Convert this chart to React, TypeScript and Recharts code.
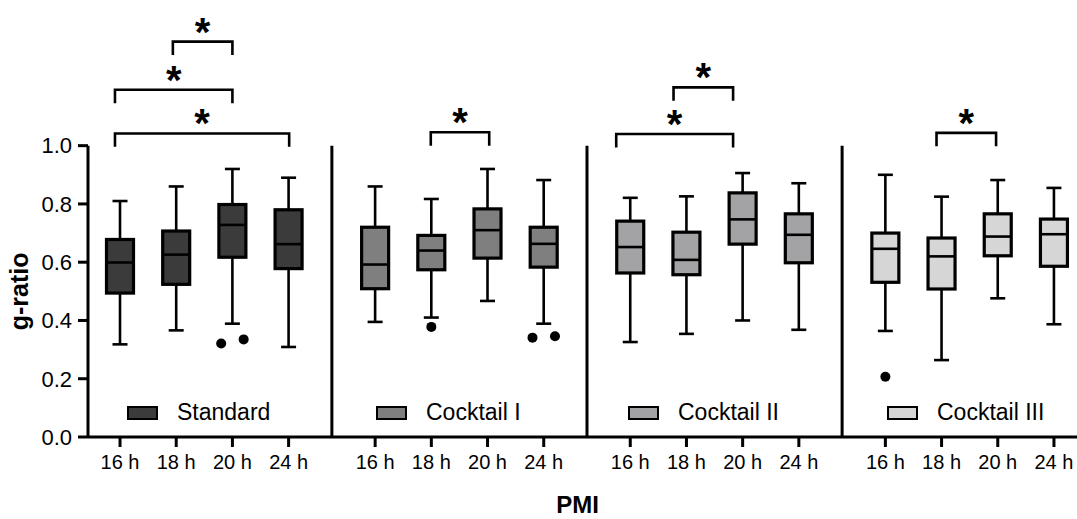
import React from 'react';
import { ComposedChart, XAxis, YAxis, Bar, Scatter, Line, ReferenceLine, Label } from 'recharts';

// ---------- data ----------
const categories = ['16 h', '18 h', '20 h', '24 h'];
const groupNames = ['Standard', 'Cocktail I', 'Cocktail II', 'Cocktail III'];

// each row: [min, q1, median, q3, max] for 16 h, 18 h, 20 h, 24 h
const standardStats = [
  [0.318, 0.494, 0.599, 0.678, 0.81],
  [0.366, 0.524, 0.626, 0.707, 0.86],
  [0.389, 0.617, 0.728, 0.798, 0.92],
  [0.309, 0.578, 0.662, 0.78, 0.89],
];
const cocktail1Stats = [
  [0.395, 0.509, 0.592, 0.72, 0.86],
  [0.41, 0.574, 0.64, 0.692, 0.817],
  [0.467, 0.614, 0.71, 0.783, 0.92],
  [0.389, 0.583, 0.663, 0.72, 0.882],
];
const cocktail2Stats = [
  [0.326, 0.563, 0.652, 0.741, 0.821],
  [0.354, 0.557, 0.608, 0.703, 0.826],
  [0.4, 0.662, 0.747, 0.838, 0.906],
  [0.368, 0.598, 0.694, 0.766, 0.871],
];
const cocktail3Stats = [
  [0.364, 0.531, 0.646, 0.7, 0.9],
  [0.264, 0.508, 0.62, 0.683, 0.825],
  [0.476, 0.622, 0.688, 0.766, 0.882],
  [0.387, 0.586, 0.696, 0.748, 0.855],
];
const groupStats = [standardStats, cocktail1Stats, cocktail2Stats, cocktail3Stats];

// outliers
const outlierGroup = [0, 0, 1, 1, 1, 3];
const outlierCategory = [2, 2, 1, 3, 3, 0];
const outlierJitter = [-0.2, 0.2, 0, -0.2, 0.2, 0];
const outlierValues = [0.321, 0.335, 0.378, 0.341, 0.346, 0.207];

// significance brackets (from / to in category units within a panel)
const bracketGroup = [0, 0, 0, 1, 2, 2, 3];
const bracketFrom = [0.94, -0.09, -0.09, 0.99, 0.77, -0.25, 0.91];
const bracketTo = [2.0, 2.0, 3.01, 2.03, 1.83, 1.83, 1.97];
const bracketTop = [1.357, 1.192, 1.042, 1.046, 1.2, 1.04, 1.044];
const bracketMarks = ['*', '*', '*', '*', '*', '*', '*'];

const yTicks = [0, 0.2, 0.4, 0.6, 0.8, 1.0];

// ---------- layout / style ----------
const PANEL_STEP = 4.54;
const X_MIN = -0.57;
const X_MAX = 17.03;
const LEG = 0.046;
const BOX_W = 27;
const FONT = 'Liberation Sans, Arial, Helvetica, sans-serif';
const FILLS = ['#3b3b3b', '#7f7f7f', '#a3a3a6', '#d6d6d6'];
const LEGEND_LEFT = [127, 376, 628, 887];

const pos = (g: number, c: number) => g * PANEL_STEP + c;

const boxData = groupStats.flatMap((stats, g) =>
  stats.map((s, c) => ({
    x: pos(g, c),
    range: [s[0], s[4]],
    min: s[0],
    q1: s[1],
    med: s[2],
    q3: s[3],
    max: s[4],
    group: g,
  }))
);

const outlierData = outlierValues.map((v, i) => ({
  x: pos(outlierGroup[i], outlierCategory[i]) + outlierJitter[i],
  y: v,
}));

const bracketData = bracketTop.map((t, i) => {
  const g = bracketGroup[i];
  const a = pos(g, bracketFrom[i]);
  const b = pos(g, bracketTo[i]);
  return [
    { x: a, y: t - LEG },
    { x: a, y: t },
    { x: b, y: t },
    { x: b, y: t - LEG },
  ];
});

const starData = bracketTop.map((t, i) => {
  const g = bracketGroup[i];
  return { x: pos(g, (bracketFrom[i] + bracketTo[i]) / 2), y: t, mark: bracketMarks[i] };
});

const xTicks = groupStats.flatMap((_, g) => categories.map((_c, c) => pos(g, c)));
const separators = [0, 1, 2].map((g) => pos(g, 3) + (PANEL_STEP - 3) / 2);

const BoxShape = (props: any) => {
  const { x, y, width, height, payload } = props;
  if (!payload || width == null) return null;
  const top = Math.min(y, y + height);
  const h = Math.abs(height);
  const span = payload.max - payload.min;
  const py = (v: number) => top + ((payload.max - v) / span) * h;
  const cx = x + width / 2;
  const bx = cx - BOX_W / 2;
  const cap = 7.5;
  const sw = 2.6;
  return (
    <g>
      <line x1={cx} x2={cx} y1={py(payload.max)} y2={py(payload.q3)} stroke="#000" strokeWidth={sw} />
      <line x1={cx} x2={cx} y1={py(payload.q1)} y2={py(payload.min)} stroke="#000" strokeWidth={sw} />
      <line x1={cx - cap} x2={cx + cap} y1={py(payload.max)} y2={py(payload.max)} stroke="#000" strokeWidth={sw} />
      <line x1={cx - cap} x2={cx + cap} y1={py(payload.min)} y2={py(payload.min)} stroke="#000" strokeWidth={sw} />
      <rect
        x={bx}
        y={py(payload.q3)}
        width={BOX_W}
        height={py(payload.q1) - py(payload.q3)}
        fill={FILLS[payload.group]}
        stroke="#000"
        strokeWidth={3.2}
      />
      <line x1={bx} x2={bx + BOX_W} y1={py(payload.med)} y2={py(payload.med)} stroke="#000" strokeWidth={sw} />
    </g>
  );
};

const OutlierShape = (props: any) => {
  const { cx, cy } = props;
  if (cx == null || cy == null) return null;
  return <circle cx={cx} cy={cy} r={5} fill="#000" />;
};

const StarShape = (props: any) => {
  const { cx, cy, payload } = props;
  if (cx == null || cy == null) return null;
  return (
    <text x={cx} y={cy + 4} textAnchor="middle" fontSize={40} fontWeight="bold" fontFamily={FONT} fill="#000">
      {payload?.mark ?? '*'}
    </text>
  );
};

const YLabel = (props: any) => {
  const vb = props.viewBox || {};
  const cy = vb.y + vb.height * (1 - 0.5 / 1.5);
  const x = 28;
  return (
    <text
      x={x}
      y={cy}
      transform={`rotate(-90 ${x} ${cy})`}
      textAnchor="middle"
      fontSize={25}
      fontWeight="bold"
      fontFamily={FONT}
      fill="#000"
    >
      g-ratio
    </text>
  );
};

const XLabel = (props: any) => {
  const vb = props.viewBox || {};
  return (
    <text
      x={vb.x + vb.width / 2 - 5}
      y={513}
      textAnchor="middle"
      fontSize={24}
      fontWeight="bold"
      fontFamily={FONT}
      fill="#000"
    >
      PMI
    </text>
  );
};

export default function App() {
  return (
    <div style={{ position: 'absolute', left: 0, top: 0, width: 1077, height: 519, background: '#fff' }}>
      <ComposedChart width={1077} height={519} data={boxData} margin={{ top: 0, right: 0, bottom: 0, left: 0 }}>
        <XAxis
          dataKey="x"
          type="number"
          domain={[X_MIN, X_MAX]}
          allowDataOverflow
          ticks={xTicks}
          interval={0}
          tickFormatter={(_v: any, i: number) => categories[i % 4]}
          height={82}
          tickSize={10}
          tickMargin={8}
          axisLine={{ stroke: '#000', strokeWidth: 3 }}
          tickLine={{ stroke: '#000', strokeWidth: 3 }}
          tick={{ fill: '#000', fontSize: 20, fontFamily: FONT }}
        >
          <Label content={XLabel} />
        </XAxis>
        <YAxis
          type="number"
          domain={[0, 1.5]}
          allowDataOverflow
          ticks={yTicks}
          interval={0}
          width={88}
          tickSize={10}
          tickMargin={6}
          axisLine={false}
          tickLine={{ stroke: '#000', strokeWidth: 3 }}
          tick={{ fill: '#000', fontSize: 22, fontFamily: FONT }}
          tickFormatter={(v: number) => v.toFixed(1)}
        >
          <Label content={YLabel} />
        </YAxis>

        <ReferenceLine
          segment={[{ x: X_MIN, y: 0 }, { x: X_MIN, y: 1.0 }]}
          stroke="#000"
          strokeWidth={3}
          ifOverflow="visible"
        />
        {separators.map((s, i) => (
          <ReferenceLine
            key={'sep' + i}
            segment={[{ x: s, y: 0 }, { x: s, y: 1.0 }]}
            stroke="#000"
            strokeWidth={3}
            ifOverflow="visible"
          />
        ))}

        <Bar dataKey="range" barSize={BOX_W} shape={BoxShape} isAnimationActive={false} />

        <Scatter data={outlierData} dataKey="y" shape={OutlierShape} isAnimationActive={false} />

        {bracketData.map((d, i) => (
          <Line
            key={'br' + i}
            data={d}
            dataKey="y"
            type="linear"
            stroke="#000"
            strokeWidth={2.6}
            dot={false}
            activeDot={false}
            strokeLinejoin="miter"
            isAnimationActive={false}
          />
        ))}

        <Scatter data={starData} dataKey="y" shape={StarShape} isAnimationActive={false} />
      </ComposedChart>

      {groupNames.map((name, g) => (
        <div
          key={name}
          style={{
            position: 'absolute',
            left: LEGEND_LEFT[g],
            top: 401,
            height: 23,
            display: 'flex',
            alignItems: 'center',
            fontFamily: FONT,
            fontSize: 23,
            lineHeight: '23px',
            color: '#000',
            whiteSpace: 'nowrap',
          }}
        >
          <div
            style={{
              width: 31,
              height: 14,
              boxSizing: 'border-box',
              border: '2.5px solid #000',
              background: FILLS[g],
            }}
          />
          <span style={{ marginLeft: 19 }}>{name}</span>
        </div>
      ))}
    </div>
  );
}
